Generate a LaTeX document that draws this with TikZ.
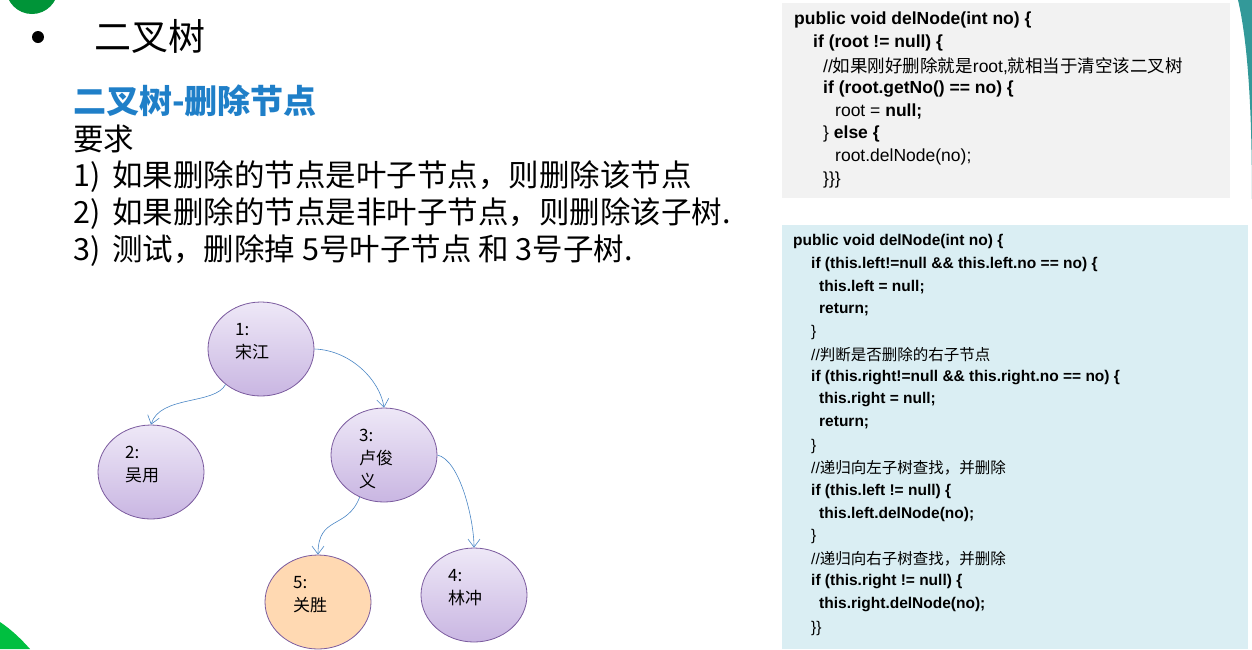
\documentclass[tikz,border=0pt]{standalone}
\usepackage{fontspec}
\setmainfont{Liberation Sans}
\newfontfamily\cjk{Noto Sans CJK SC}
\usetikzlibrary{arrows.meta,shapes.geometric}
\definecolor{nodeline}{HTML}{7A5A9E}
\definecolor{nodetop}{HTML}{EEE8F7}
\definecolor{nodebot}{HTML}{C9B6E2}
\definecolor{arr}{HTML}{4A86C5}
\definecolor{ttl}{HTML}{1F7FC8}
\definecolor{codeblue}{HTML}{DAEEF3}
\definecolor{codegray}{HTML}{F2F2F2}
\tikzset{
 tn/.style={ellipse,draw=nodeline,thick,minimum width=106pt,minimum height=94pt,top color=nodetop,bottom color=nodebot},
 lbl/.style={anchor=north west,align=left,font=\cjk\fontsize{17}{23}\selectfont,inner sep=0pt},
 ed/.style={draw=arr,semithick,-{Straight Barb[length=8pt,width=12pt]}},
 cl/.style={anchor=west,inner sep=0pt,font=\fontsize{17.5}{20}\selectfont\bfseries},
 cn/.style={anchor=west,inner sep=0pt,font=\fontsize{17.5}{20}\selectfont},
 bt/.style={anchor=west,inner sep=0pt,font=\cjk\fontsize{30.5}{32}\selectfont},
}
\begin{document}
\begin{tikzpicture}[x=1pt,y=-1pt]
\useasboundingbox (0,0) rectangle (1252,649);
% decorations
\fill[green!45!teal!80!black] (32,-12) circle (26);
\fill[teal!80] (1238,0) .. controls (1252,60) and (1252,160) .. (1252,220) -- (1252,0) -- cycle;
\fill[green!50!teal] (0,622) .. controls (12,630) and (22,640) .. (30,649) -- (0,649) -- cycle;
% titles
\fill (38,37) circle (6);
\node[anchor=west,inner sep=0pt,font=\cjk\fontsize{37}{40}\selectfont] (t1) at (94,36) {二叉树};
\node[anchor=west,inner sep=0pt,text=ttl,font=\cjk\bfseries\fontsize{33}{36}\selectfont] (t2) at (73,101) {二叉树-删除节点};
\node[bt] (r0) at (73,139) {要求};
\node[bt] (r1) at (73,177) {1)\hspace{12pt}如果删除的节点是叶子节点，则删除该节点};
\node[bt] (r2) at (73,214) {2)\hspace{12pt}如果删除的节点是非叶子节点，则删除该子树.};
\node[bt] (r3) at (73,251) {3)\hspace{12pt}测试，删除掉 5号叶子节点 和 3号子树.};
% tree
\node[tn] (n1) at (261,349) {};
\node[tn] (n2) at (151,472) {};
\node[tn] (n3) at (384,455) {};
\node[tn,top color=orange!30,bottom color=orange!30] (n5) at (318,602) {};
\node[tn] (n4) at (474,595) {};
\node[lbl] (l1) at (235,323) {1:\\宋江};
\node[lbl] (l2) at (125,446) {2:\\吴用};
\node[lbl] (l3) at (359,429) {3:\\卢俊\\义};
\node[lbl] (l5) at (293,576) {5:\\关胜};
\node[lbl] (l4) at (448,569) {4:\\林冲};
\draw[ed] (n1.225) .. controls (215,405) and (160,395) .. (n2.north);
\draw[ed] (n1.east) .. controls (350,350) and (380,380) .. (n3.north);
\draw[ed] (n3.240) .. controls (347,530) and (318,515) .. (n5.north);
\draw[ed] (n3.east) .. controls (460,460) and (474,520) .. (n4.north);
% code box 1
\fill[codegray] (782,3) rectangle (1230,198);
\node[cl] (a1) at (794,20) {public void delNode(int no) \{};
\node[cl] (a2) at (813,43) {if (root != null) \{};
\node[cn] (a3) at (823,66) {//{\cjk 如果刚好删除就是}root,{\cjk 就相当于清空该二叉树}};
\node[cl] (a4) at (823,89) {if (root.getNo() == no) \{};
\node[cn] (a5) at (835,112) {root = \textbf{null;}};
\node[cn] (a6) at (823,134) {\} \textbf{else \{}};
\node[cn] (a7) at (835,157) {root.delNode(no);};
\node[cn] (a8) at (823,180) {\}\}\}};
% code box 2
\fill[codeblue] (782,225) rectangle (1248,649);
\begin{scope}[every node/.style={cl,font=\fontsize{15.5}{18}\selectfont\bfseries}]
\node (b1) at (793,241) {public void delNode(int no) \{};
\node (b2) at (811,264) {if (this.left!=null \&\& this.left.no == no) \{};
\node (b3) at (819,287) {this.left = null;};
\node (b4) at (819,310) {return;};
\node (b5) at (811,332) {\mdseries\}};
\node (b6) at (811,355) {\mdseries//{\cjk 判断是否删除的右子节点}};
\node (b7) at (811,378) {if (this.right!=null \&\& this.right.no == no) \{};
\node (b8) at (819,400) {this.right = null;};
\node (b9) at (819,423) {return;};
\node (b10) at (811,446) {\mdseries\}};
\node (b11) at (811,468) {\mdseries//{\cjk 递归向左子树查找，并删除}};
\node (b12) at (811,491) {if (this.left != null) \{};
\node (b13) at (819,514) {this.left.delNode(no);};
\node (b14) at (811,536) {\mdseries\}};
\node (b15) at (811,559) {\mdseries//{\cjk 递归向右子树查找，并删除}};
\node (b16) at (811,582) {if (this.right != null) \{};
\node (b17) at (819,605) {this.right.delNode(no);};
\node (b18) at (811,628) {\mdseries\}\}};
\end{scope}
\end{tikzpicture}
\end{document}
